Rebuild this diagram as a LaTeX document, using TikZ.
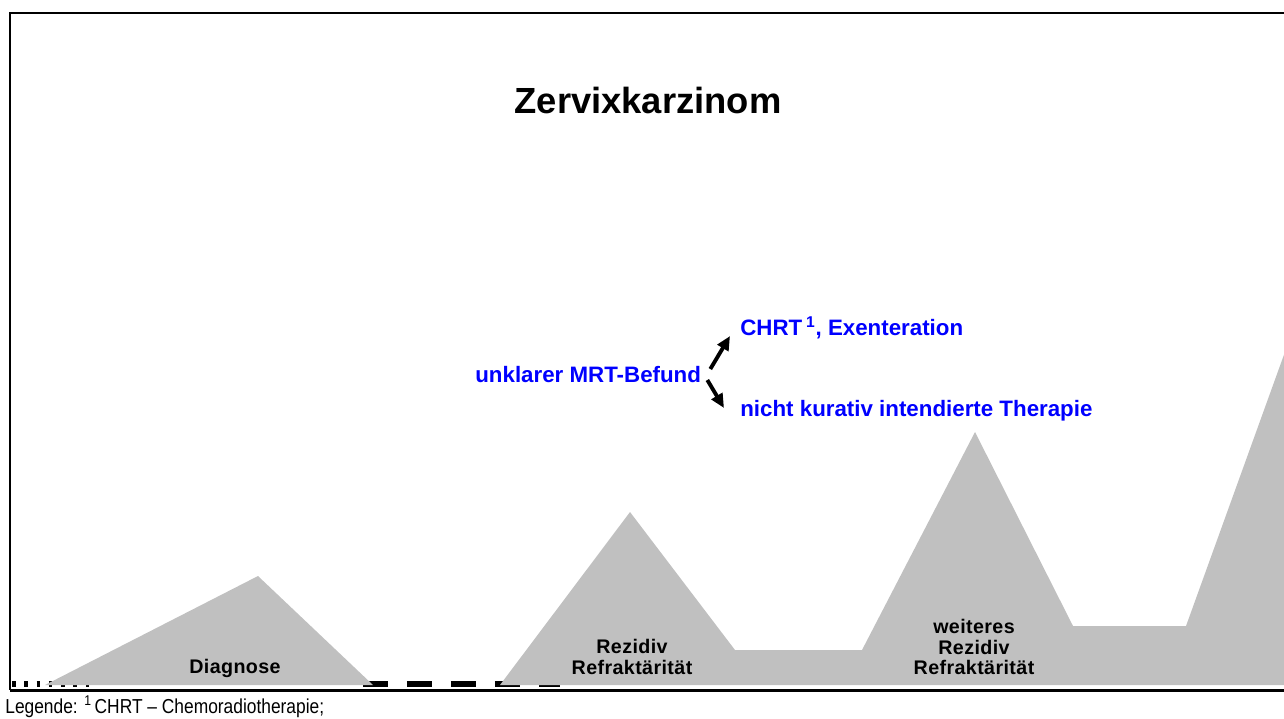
\documentclass[tikz,border=0pt]{standalone}
\usepackage{fontspec}
\setmainfont{Liberation Sans}
\newfontfamily\etikettfont[LetterSpace=2]{Liberation Sans}
\usetikzlibrary{arrows.meta}
\definecolor{berg}{RGB}{192,192,192}
\begin{document}
\begin{tikzpicture}[x=0.02cm, y=-0.02cm]
  \tikzset{
    titel/.style={font=\bfseries\fontsize{20.7}{24}\selectfont, inner sep=0pt},
    blau/.style={text=blue, font=\bfseries\fontsize{12.7}{15}\selectfont, inner sep=0pt, anchor=west},
    etikett/.style={font=\etikettfont\bfseries\fontsize{11.2}{11.9}\selectfont, align=center, inner sep=0pt},
    pfeil/.style={-{Triangle[length=8pt, width=7pt]}, line width=2.2pt},
    achse/.style={line width=3.4pt},
  }
  \useasboundingbox (0,0) rectangle (1284,718);
  \clip (0,0) rectangle (1284,718);

  % Zeitachse, liegt unter den Bergen
  \draw[achse, dash pattern=on 2pt off 5pt] (12,684) -- (95,684);
  \draw[achse, dash pattern=on 14.2pt off 10.8pt] (363,684) -- (560,684);

  % Berge
  \fill[berg] (45,685) -- (258,576) -- (373,685) -- cycle;
  \fill[berg] (500,685) -- (630,512) -- (735,650) -- (862,650) -- (975,432)
    -- (1073,626) -- (1186,626) -- (1290,338) -- (1290,685) -- cycle;

  % Rahmen
  \draw[line width=1.2pt] (1290,13) -- (10,13) -- (10,690);
  \draw[line width=1.7pt] (10,690) -- (1290,690);

  \node[titel] (titel) at (648,100) {Zervixkarzinom};

  \node[blau] (mrt) at (475,375) {unklarer MRT-Befund};
  \node[blau] (chrt) at (740,328) {CHRT\,\textsuperscript{1}, Exenteration};
  \node[blau] (nkt) at (740,411) {nicht kurativ intendierte Therapie};

  \draw[pfeil] ([shift={(9,-6)}]mrt.east) -- ([shift={(-10,8)}]chrt.west);
  \draw[pfeil] ([shift={(6,5)}]mrt.east) -- ([shift={(-16,-3)}]nkt.west);

  \node[etikett] (diag) at (235,668) {Diagnose};
  \node[etikett] (rez) at (632,657) {Rezidiv\\Refraktärität};
  \node[etikett] (wrez) at (974,647) {weiteres\\Rezidiv\\Refraktärität};

  \node[anchor=west, inner sep=0pt, font=\fontsize{11.5}{12}\selectfont] (leg) at (5,707)
    {\scalebox{0.86}[1]{Legende: \textsuperscript{1}\,CHRT -- Chemoradiotherapie;}};
\end{tikzpicture}
\end{document}
